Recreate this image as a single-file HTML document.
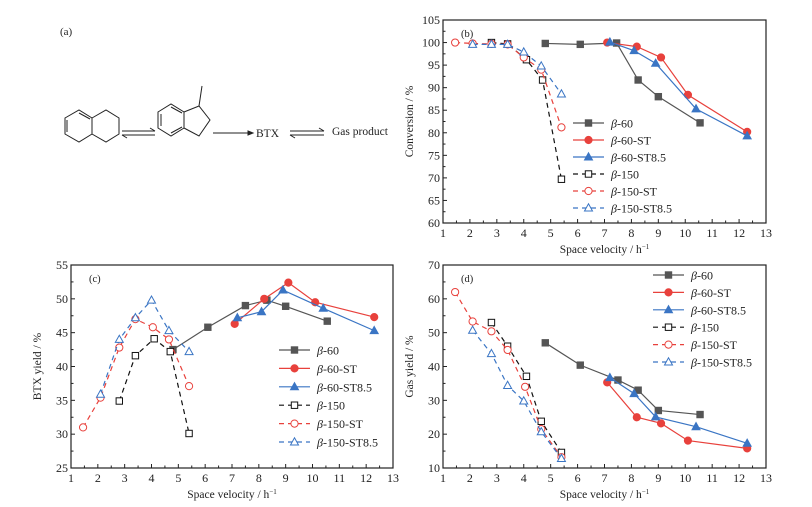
<!DOCTYPE html>
<html><head><meta charset="utf-8">
<style>
html,body{margin:0;padding:0;background:#fff;}
svg{display:block;font-family:"Liberation Serif",serif;}
</style></head>
<body>
<svg id="fig" width="812" height="507" viewBox="0 0 812 507">
<g stroke="#222" fill="none" stroke-width="1">
  <text x="60" y="35" font-size="11" fill="#222" stroke="none">(a)</text>
  <polygon points="65,118 79,110 92,118 92,134 79,142 65,134"/>
  <polygon points="92,118 106,110 119,118 119,134 106,142 92,134"/>
  <line x1="67" y1="120" x2="67" y2="132"/><line x1="79" y1="113" x2="90" y2="119"/>
  <line x1="122" y1="131" x2="155" y2="131"/><polyline points="150,128 155,131"/>
  <line x1="122" y1="135" x2="155" y2="135"/><polyline points="127,138 122,135"/>
  <polygon points="158,112 171,104 184,112 184,128 171,136 158,128"/>
  <polyline points="184,112 199,106 210,120 199,136 184,128"/>
  <line x1="199" y1="106" x2="202" y2="86"/>
  <line x1="161" y1="114" x2="161" y2="126"/><line x1="171" y1="107" x2="182" y2="113"/><line x1="171" y1="133" x2="182" y2="127"/>
  <line x1="213" y1="133" x2="248" y2="133"/><polygon points="248,131 253,133 248,135" fill="#222"/>
  <line x1="290" y1="131" x2="324" y2="131"/><polyline points="319,128 324,131"/>
  <line x1="290" y1="135" x2="324" y2="135"/><polyline points="295,138 290,135"/>
  <text x="256" y="137" font-size="11.5" fill="#222" stroke="none">BTX</text>
  <text x="332" y="135" font-size="11.5" fill="#222" stroke="none">Gas product</text>
</g>
</svg>
<script>
const seriesNames=["β-60","β-60-ST","β-60-ST8.5","β-150","β-150-ST","β-150-ST8.5"];
const bX60=[4.8,6.1,7.45,8.25,9.0,10.55], bY60=[99.8,99.6,99.9,91.7,88.0,82.2];
const bX60ST=[7.1,8.2,9.1,10.1,12.3], bY60ST=[100,99.1,96.7,88.4,80.2];
const bX60S8=[7.2,8.1,8.9,10.4,12.3], bY60S8=[100.1,98.2,95.4,85.3,79.3];
const bX150=[2.8,3.4,4.1,4.7,5.4], bY150=[100,99.7,96.2,91.7,69.7];
const bX150ST=[1.45,2.1,2.8,3.4,4.0,4.65,5.4], bY150ST=[100,99.8,99.7,99.6,96.7,94.0,81.2];
const bX150S8=[2.1,2.8,3.4,4.0,4.65,5.4], bY150S8=[99.6,99.6,99.6,97.9,94.8,88.6];
const cX60=[4.8,6.1,7.5,8.3,9.0,10.55], cY60=[42.5,45.8,49.0,49.8,48.9,46.7];
const cX60ST=[7.1,8.2,9.1,10.1,12.3], cY60ST=[46.3,50.0,52.4,49.5,47.3];
const cX60S8=[7.2,8.1,8.9,10.4,12.3], cY60S8=[47.2,48.1,51.3,48.6,45.3];
const cX150=[2.8,3.4,4.1,4.7,5.4], cY150=[34.9,41.6,44.1,42.2,30.1];
const cX150ST=[1.45,2.1,2.8,3.4,4.05,4.65,5.4], cY150ST=[31.0,35.4,42.8,47.0,45.8,44.0,37.1];
const cX150S8=[2.1,2.8,3.4,4.0,4.65,5.4], cY150S8=[35.9,44.0,47.2,49.8,45.3,42.2];
const dX60=[4.8,6.1,7.5,8.25,9.0,10.55], dY60=[47,40.4,36,33,27,25.8];
const dX60ST=[7.1,8.2,9.1,10.1,12.3], dY60ST=[35.3,25.0,23.2,18.1,15.8];
const dX60S8=[7.2,8.1,8.9,10.4,12.3], dY60S8=[36.7,32.0,25.1,22.2,17.3];
const dX150=[2.8,3.4,4.1,4.65,5.4], dY150=[53,46,37.1,23.8,14.6];
const dX150ST=[1.45,2.1,2.8,3.4,4.05,4.65,5.4], dY150ST=[62,53.3,50.4,44.9,34,21.5,13.2];
const dX150S8=[2.1,2.8,3.4,4.0,4.65,5.4], dY150S8=[50.7,43.8,34.4,29.8,20.7,12.8];
const xTicks=[1,2,3,4,5,6,7,8,9,10,11,12,13];
const bYTicks=[60,65,70,75,80,85,90,95,100,105];
const cYTicks=[25,30,35,40,45,50,55];
const dYTicks=[10,20,30,40,50,60,70];

const NS="http://www.w3.org/2000/svg";
const svg=document.getElementById('fig');
const styles=[
 {c:"#555",dash:null,m:"sq",fill:true},
 {c:"#e8413c",dash:null,m:"ci",fill:true},
 {c:"#3a75c4",dash:null,m:"tr",fill:true},
 {c:"#111",dash:"5,4",m:"sq",fill:false},
 {c:"#e8413c",dash:"5,4",m:"ci",fill:false},
 {c:"#3a75c4",dash:"5,4",m:"tr",fill:false}];
function mk(tag,attrs,parent){const e=document.createElementNS(NS,tag);for(const k in attrs)e.setAttribute(k,attrs[k]);parent.appendChild(e);return e;}
function marker(g,type,x,y,st){
  let e;
  const f=st.fill?st.c:"#fff";
  if(type==="sq")e=mk('rect',{x:x-3.2,y:y-3.2,width:6.4,height:6.4,fill:f,stroke:st.c,'stroke-width':1},g);
  else if(type==="ci")e=mk('circle',{cx:x,cy:y,r:3.6,fill:f,stroke:st.c,'stroke-width':1},g);
  else e=mk('polygon',{points:`${x},${y-4.2} ${x+4},${y+3} ${x-4},${y+3}`,fill:f,stroke:st.c,'stroke-width':1},g);
  
  
}
function panel(o){
  const g=mk('g',{},svg);
  
  
  const sx=v=>o.x0+(v-1)/12*(o.x1-o.x0);
  const sy=v=>o.y1-(v-o.ymin)/(o.ymax-o.ymin)*(o.y1-o.y0);
  const fr=mk('rect',{x:o.x0,y:o.y0,width:o.x1-o.x0,height:o.y1-o.y0,fill:"none",stroke:"#222",'stroke-width':1.2},g);
  
  
  xTicks.forEach((t,i)=>{
    const x=sx(t);
    mk('line',{x1:x,x2:x,y1:o.y1,y2:o.y1-4,stroke:"#222"},g);
    if(i<xTicks.length-1){const xm=sx(t+0.5);mk('line',{x1:xm,x2:xm,y1:o.y1,y2:o.y1-2.5,stroke:"#222"},g);}
    const tx=mk('text',{x:x,y:o.y1+14,'font-size':12,'text-anchor':'middle',fill:"#222"},g);
    tx.textContent=t;
    
    
  });
  const step=o.yt[1]-o.yt[0];
  o.yt.forEach((t,i)=>{
    const y=sy(t);
    mk('line',{x1:o.x0,x2:o.x0+4,y1:y,y2:y,stroke:"#222"},g);
    if(i<o.yt.length-1){const ym=sy(t+step/2);mk('line',{x1:o.x0,x2:o.x0+2.5,y1:ym,y2:ym,stroke:"#222"},g);}
    const tx=mk('text',{x:o.x0-3,y:y+4,'font-size':12,'text-anchor':'end',fill:"#222"},g);
    tx.textContent=t;
    
    
  });
  const pl=mk('text',{x:o.x0+18,y:o.y0+17,'font-size':10.5,fill:"#222"},g);
  pl.textContent=o.label;
  
  
  const xt=mk('text',{x:(o.x0+o.x1)/2,y:o.y1+30,'font-size':11.5,'text-anchor':'middle',fill:"#222"},g);
  xt.innerHTML='Space velocity / h<tspan dy="-4" font-size="7">−1</tspan>';
  
  
  const yc=(o.y0+o.y1)/2, yx=o.x0-30;
  const yt=mk('text',{x:yx,y:yc,'font-size':11.5,'text-anchor':'middle',fill:"#222",transform:`rotate(-90 ${yx} ${yc})`},g);
  yt.textContent=o.ytitle;
  
  
  o.series.forEach((s,i)=>{
    const st=styles[i];
    const sg=mk('g',{},g);
    
    
    const pts=s[0].map((v,k)=>sx(v)+","+sy(s[1][k])).join(" ");
    const ln=mk('polyline',{points:pts,fill:"none",stroke:st.c,'stroke-width':1.2},sg);
    if(st.dash)ln.setAttribute('stroke-dasharray',st.dash);
    
    
    s[0].forEach((v,k)=>marker(sg,st.m,sx(v),sy(s[1][k]),st));
    const ly=o.ly+i*o.ld;
    const lg=mk('g',{},g);
    
    
    const ll=mk('line',{x1:o.lx,x2:o.lx+31,y1:ly,y2:ly,stroke:st.c,'stroke-width':1.2},lg);
    if(st.dash)ll.setAttribute('stroke-dasharray',st.dash);
    marker(lg,st.m,o.lx+15.5,ly,st);
    const lt=mk('text',{x:o.lx+38,y:ly+4.5,'font-size':12,fill:"#222"},lg);
    lt.innerHTML='<tspan font-style="italic">β</tspan>'+seriesNames[i].slice(1);
  });
}
panel({name:"conversion-chart-b",label:"(b)",x0:443,x1:766,y0:20,y1:223,ymin:60,ymax:105,yt:bYTicks,ytitle:"Conversion / %",lx:573,ly:123,ld:17,
  series:[[bX60,bY60],[bX60ST,bY60ST],[bX60S8,bY60S8],[bX150,bY150],[bX150ST,bY150ST],[bX150S8,bY150S8]]});
panel({name:"btx-yield-chart-c",label:"(c)",x0:71,x1:393,y0:265,y1:468,ymin:25,ymax:55,yt:cYTicks,ytitle:"BTX yield / %",lx:279,ly:350,ld:18.4,
  series:[[cX60,cY60],[cX60ST,cY60ST],[cX60S8,cY60S8],[cX150,cY150],[cX150ST,cY150ST],[cX150S8,cY150S8]]});
panel({name:"gas-yield-chart-d",label:"(d)",x0:443,x1:766,y0:265,y1:468,ymin:10,ymax:70,yt:dYTicks,ytitle:"Gas yield / %",lx:653,ly:275,ld:17.4,
  series:[[dX60,dY60],[dX60ST,dY60ST],[dX60S8,dY60S8],[dX150,dY150],[dX150ST,dY150ST],[dX150S8,dY150S8]]});
</script>
</body></html>
